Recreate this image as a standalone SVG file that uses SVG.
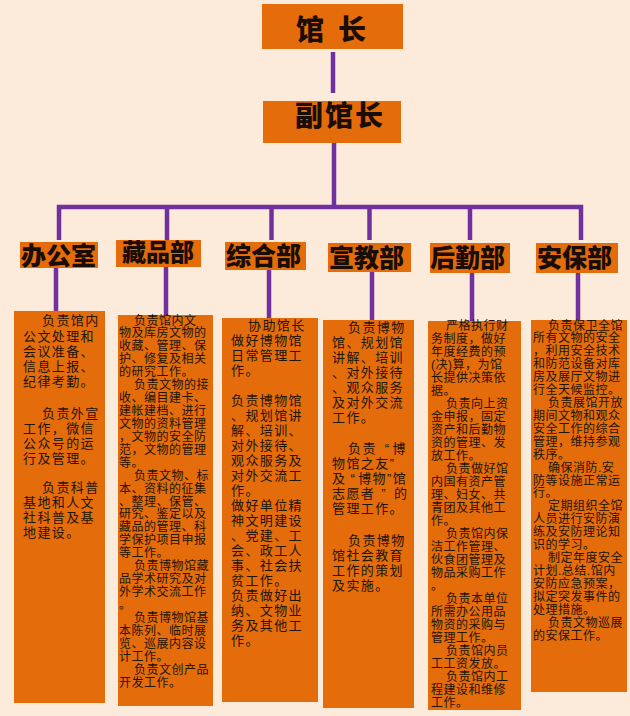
<svg xmlns="http://www.w3.org/2000/svg" width="630" height="716" viewBox="0 0 630 716">
<style>
.bg{fill:#FCEADB}
.box{fill:#E46C0A}
.ln{stroke:#7030A0;stroke-width:4.5;fill:none}
.hd{font-family:"Noto Sans CJK SC","Noto Sans CJK JP",sans-serif;font-weight:900;fill:#1a0d05}
.t13{font-family:"Liberation Sans","Noto Sans CJK SC","Noto Sans CJK JP",sans-serif;font-size:13px;letter-spacing:1.4px;fill:#231408}
.t12{font-family:"Liberation Sans","Noto Sans CJK SC","Noto Sans CJK JP",sans-serif;font-size:12px;letter-spacing:0.5px;fill:#231408}
</style>
<rect class="bg" x="0" y="0" width="630" height="716"/>

<g id="connectors">
<path class="ln" d="M333 52V93"/>
<path class="ln" d="M334 143V207"/>
<path class="ln" d="M59 240V207H581V240"/>
<path class="ln" d="M167 207V240M271.5 207V240M369.5 207V240M470 207V240"/>
<path class="ln" d="M56 268V312M166 267V316M269 270V319M372 272V321M472 273V322M578 273V321"/>
</g>

<g id="director">
<rect class="box" x="262" y="4" width="141" height="45"/>
<text class="hd" x="296" y="40" font-size="28" letter-spacing="14">馆长</text>
</g>
<g id="deputy">
<rect class="box" x="263" y="101" width="138" height="42"/>
<text class="hd" x="295" y="126" font-size="28" letter-spacing="2">副馆长</text>
</g>

<g id="office">
<rect class="box" x="20" y="242" width="78" height="26"/>
<text class="hd" x="21" y="264.5" font-size="25">办公室</text>
</g>
<g id="collection">
<rect class="box" x="116" y="240" width="85" height="27"/>
<text class="hd" x="122" y="261" font-size="24">藏品部</text>
</g>
<g id="general">
<rect class="box" x="225" y="242" width="81" height="28"/>
<text class="hd" x="226" y="264.5" font-size="25">综合部</text>
</g>
<g id="education">
<rect class="box" x="328" y="243" width="83" height="29"/>
<text class="hd" x="329" y="266.5" font-size="25">宣教部</text>
</g>
<g id="logistics">
<rect class="box" x="430" y="243" width="80" height="30"/>
<text class="hd" x="430" y="266.5" font-size="25">后勤部</text>
</g>
<g id="security">
<rect class="box" x="536" y="243" width="82" height="30"/>
<text class="hd" x="537" y="266.5" font-size="25">安保部</text>
</g>

<g id="office-duties">
<rect class="box" x="14" y="311" width="91" height="392"/>
<text class="t13">
<tspan x="42" y="325">负责馆内</tspan>
<tspan x="23" y="341">公文处理和</tspan>
<tspan x="23" y="356">会议准备、</tspan>
<tspan x="23" y="371">信息上报、</tspan>
<tspan x="23" y="386">纪律考勤。</tspan>
<tspan x="42" y="418">负责外宣</tspan>
<tspan x="23" y="433">工作，微信</tspan>
<tspan x="23" y="448">公众号的运</tspan>
<tspan x="23" y="463">行及管理。</tspan>
<tspan x="42" y="492">负责科普</tspan>
<tspan x="23" y="507">基地和人文</tspan>
<tspan x="23" y="522">社科普及基</tspan>
<tspan x="23" y="537">地建设。</tspan>
</text>
</g>

<g id="collection-duties">
<rect class="box" x="118" y="315" width="95" height="391"/>
<text class="t12">
<tspan x="134" y="324.5">负责馆内文</tspan>
<tspan x="119" dy="12.93">物及库房文物的</tspan>
<tspan x="119" dy="12.93">收藏、管理、保</tspan>
<tspan x="119" dy="12.93">护、修复及相关</tspan>
<tspan x="119" dy="12.93">的研究工作。</tspan>
<tspan x="134" dy="12.93">负责文物的接</tspan>
<tspan x="119" dy="12.93">收、编目建卡、</tspan>
<tspan x="119" dy="12.93">建帐建档、进行</tspan>
<tspan x="119" dy="12.93">文物的资料管理</tspan>
<tspan x="119" dy="12.93">，文物的安全防</tspan>
<tspan x="119" dy="12.93">范，文物的管理</tspan>
<tspan x="119" dy="12.93">等。</tspan>
<tspan x="134" dy="12.93">负责文物、标</tspan>
<tspan x="119" dy="12.93">本、资料的征集</tspan>
<tspan x="119" dy="12.93">、整理、保管、</tspan>
<tspan x="119" dy="12.93">研究、鉴定以及</tspan>
<tspan x="119" dy="12.93">藏品的管理、科</tspan>
<tspan x="119" dy="12.93">学保护项目申报</tspan>
<tspan x="119" dy="12.93">等工作。</tspan>
<tspan x="134" dy="12.93">负责博物馆藏</tspan>
<tspan x="119" dy="12.93">品学术研究及对</tspan>
<tspan x="119" dy="12.93">外学术交流工作</tspan>
<tspan x="119" dy="12.93">。</tspan>
<tspan x="134" dy="12.93">负责博物馆基</tspan>
<tspan x="119" dy="12.93">本陈列、临时展</tspan>
<tspan x="119" dy="12.93">览、巡展内容设</tspan>
<tspan x="119" dy="12.93">计工作。</tspan>
<tspan x="134" dy="12.93">负责文创产品</tspan>
<tspan x="119" dy="12.93">开发工作。</tspan>
</text>
</g>

<g id="general-duties">
<rect class="box" x="222" y="318" width="96" height="384"/>
<text class="t13">
<tspan x="248" y="330">协助馆长</tspan>
<tspan x="231" dy="15">做好博物馆</tspan>
<tspan x="231" dy="15">日常管理工</tspan>
<tspan x="231" dy="15">作。</tspan>
<tspan x="231" y="405">负责博物馆</tspan>
<tspan x="231" dy="15">、规划馆讲</tspan>
<tspan x="231" dy="15">解、培训、</tspan>
<tspan x="231" dy="15">对外接待、</tspan>
<tspan x="231" dy="15">观众服务及</tspan>
<tspan x="231" dy="15">对外交流工</tspan>
<tspan x="231" dy="15">作。</tspan>
<tspan x="231" dy="15">做好单位精</tspan>
<tspan x="231" dy="15">神文明建设</tspan>
<tspan x="231" dy="15">、党建、工</tspan>
<tspan x="231" dy="15">会、政工人</tspan>
<tspan x="231" dy="15">事、社会扶</tspan>
<tspan x="231" dy="15">贫工作。</tspan>
<tspan x="231" dy="15">负责做好出</tspan>
<tspan x="231" dy="15">纳、文物业</tspan>
<tspan x="231" dy="15">务及其他工</tspan>
<tspan x="231" dy="15">作。</tspan>
</text>
</g>

<g id="education-duties">
<rect class="box" x="323" y="320" width="91" height="388"/>
<text class="t13">
<tspan x="348" y="332">负责博物</tspan>
<tspan x="332" dy="15">馆、规划馆</tspan>
<tspan x="332" dy="15">讲解、培训</tspan>
<tspan x="332" dy="15">、对外接待</tspan>
<tspan x="332" dy="15">、观众服务</tspan>
<tspan x="332" dy="15">及对外交流</tspan>
<tspan x="332" dy="15">工作。</tspan>
<tspan x="348" y="453">负责<tspan dx="8">“</tspan><tspan dx="2">博</tspan></tspan>
<tspan x="332" y="468">物馆之友”</tspan>
<tspan x="332" y="483">及<tspan dx="4">“</tspan><tspan dx="2">博物”馆</tspan></tspan>
<tspan x="332" y="498">志愿者<tspan dx="6">”</tspan><tspan dx="7">的</tspan></tspan>
<tspan x="332" y="513">管理工作。</tspan>
<tspan x="348" y="545">负责博物</tspan>
<tspan x="332" dy="15">馆社会教育</tspan>
<tspan x="332" dy="15">工作的策划</tspan>
<tspan x="332" dy="15">及实施。</tspan>
</text>
</g>

<g id="logistics-duties">
<rect class="box" x="428" y="321" width="93" height="389"/>
<text class="t12">
<tspan x="446" y="329.5">严格执行财</tspan>
<tspan x="431" dy="13">务制度，做好</tspan>
<tspan x="431" dy="13">年度经费的预</tspan>
<tspan x="431" dy="13">(决)算，为馆</tspan>
<tspan x="431" dy="13">长提供决策依</tspan>
<tspan x="431" dy="13">据。</tspan>
<tspan x="446" dy="13">负责向上资</tspan>
<tspan x="431" dy="13">金申报，固定</tspan>
<tspan x="431" dy="13">资产和后勤物</tspan>
<tspan x="431" dy="13">资的管理、发</tspan>
<tspan x="431" dy="13">放工作。</tspan>
<tspan x="446" dy="13">负责做好馆</tspan>
<tspan x="431" dy="13">内国有资产管</tspan>
<tspan x="431" dy="13">理、妇女、共</tspan>
<tspan x="431" dy="13">青团及其他工</tspan>
<tspan x="431" dy="13">作。</tspan>
<tspan x="446" dy="13">负责馆内保</tspan>
<tspan x="431" dy="13">洁工作管理、</tspan>
<tspan x="431" dy="13">伙食团管理及</tspan>
<tspan x="431" dy="13">物品采购工作</tspan>
<tspan x="431" dy="13">。</tspan>
<tspan x="446" dy="13">负责本单位</tspan>
<tspan x="431" dy="13">所需办公用品</tspan>
<tspan x="431" dy="13">物资的采购与</tspan>
<tspan x="431" dy="13">管理工作。</tspan>
<tspan x="446" dy="13">负责馆内员</tspan>
<tspan x="431" dy="13">工工资发放。</tspan>
<tspan x="446" dy="13">负责馆内工</tspan>
<tspan x="431" dy="13">程建设和维修</tspan>
<tspan x="431" dy="13">工作。</tspan>
</text>
</g>

<g id="security-duties">
<rect class="box" x="531" y="320" width="96" height="372"/>
<text class="t12">
<tspan x="548" y="329.5">负责保卫全馆</tspan>
<tspan x="533" dy="12.92">所有文物的安全</tspan>
<tspan x="533" dy="12.92">，利用安全技术</tspan>
<tspan x="533" dy="12.92">和防范设备对库</tspan>
<tspan x="533" dy="12.92">房及展厅文物进</tspan>
<tspan x="533" dy="12.92">行全天候监控。</tspan>
<tspan x="548" dy="12.92">负责展馆开放</tspan>
<tspan x="533" dy="12.92">期间文物和观众</tspan>
<tspan x="533" dy="12.92">安全工作的综合</tspan>
<tspan x="533" dy="12.92">管理，维持参观</tspan>
<tspan x="533" dy="12.92">秩序。</tspan>
<tspan x="548" dy="12.92">确保消防.安</tspan>
<tspan x="533" dy="12.92">防等设施正常运</tspan>
<tspan x="533" dy="12.92">行。</tspan>
<tspan x="548" dy="12.92">定期组织全馆</tspan>
<tspan x="533" dy="12.92">人员进行安防演</tspan>
<tspan x="533" dy="12.92">练及安防理论知</tspan>
<tspan x="533" dy="12.92">识的学习。</tspan>
<tspan x="548" dy="12.92">制定年度安全</tspan>
<tspan x="533" dy="12.92">计划.总结.馆内</tspan>
<tspan x="533" dy="12.92">安防应急预案，</tspan>
<tspan x="533" dy="12.92">拟定突发事件的</tspan>
<tspan x="533" dy="12.92">处理措施。</tspan>
<tspan x="548" dy="12.92">负责文物巡展</tspan>
<tspan x="533" dy="12.92">的安保工作。</tspan>
</text>
</g>
</svg>
